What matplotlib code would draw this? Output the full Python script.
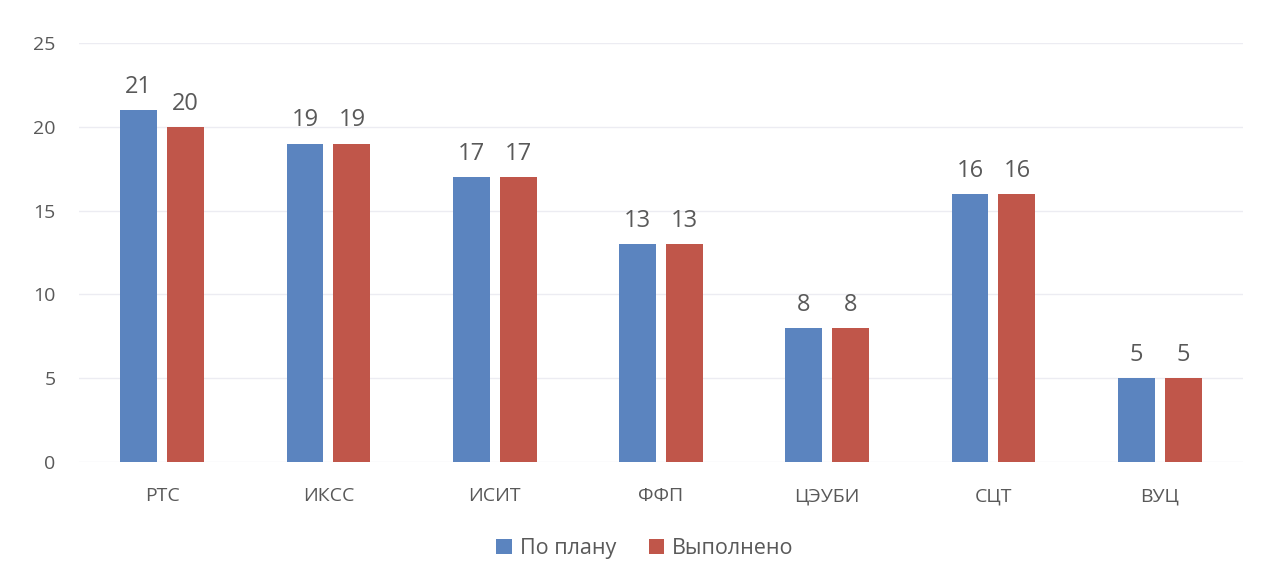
import matplotlib.pyplot as plt
import numpy as np

plt.rcParams['font.family'] = ['Open Sans', 'DejaVu Sans']

categories = ['РТС', 'ИКСС', 'ИСИТ', 'ФФП', 'ЦЭУБИ', 'СЦТ', 'ВУЦ']
plan = [21, 19, 17, 13, 8, 16, 5]
done = [20, 19, 17, 13, 8, 16, 5]
series_names = ['По плану', 'Выполнено']

blue = '#5b84bf'
red = '#c0564a'
text_col = '#595959'

fig = plt.figure(figsize=(12.65, 5.8), dpi=100)
ax = fig.add_axes([0.0625, 0.2034, 0.92, 0.7225])

x = np.arange(len(categories))
w = 0.222
off = 0.141
b1 = ax.bar(x - off, plan, w, color=blue, label=series_names[0], zorder=3)
b2 = ax.bar(x + off, done, w, color=red, label=series_names[1], zorder=3)

for bars in (b1, b2):
    for rect in bars:
        h = rect.get_height()
        ax.annotate(str(int(h)), (rect.get_x() + rect.get_width() / 2, h),
                    xytext=(0, 8), textcoords='offset points',
                    ha='center', va='bottom', fontsize=17, color=text_col)

ax.set_xlim(-0.5, len(categories) - 0.5)
ax.set_ylim(0, 25)
ax.set_yticks(range(0, 26, 5))
ax.set_xticks(x)
ax.set_xticklabels(categories)
ax.tick_params(axis='y', length=0, pad=17, labelsize=14, labelcolor=text_col)
ax.tick_params(axis='x', length=0, pad=18, labelsize=14, labelcolor=text_col)
ax.grid(axis='y', color='#ececf2', linewidth=1, zorder=0)
for s in ax.spines.values():
    s.set_visible(False)

fig.legend(loc='center', bbox_to_anchor=(0.51, 0.055), ncol=2, frameon=False,
           fontsize=15.5, handlelength=0.7, handleheight=0.7, handletextpad=0.4,
           columnspacing=1.5, labelcolor=text_col)

fig.savefig('out.png', dpi=100, facecolor='white')
